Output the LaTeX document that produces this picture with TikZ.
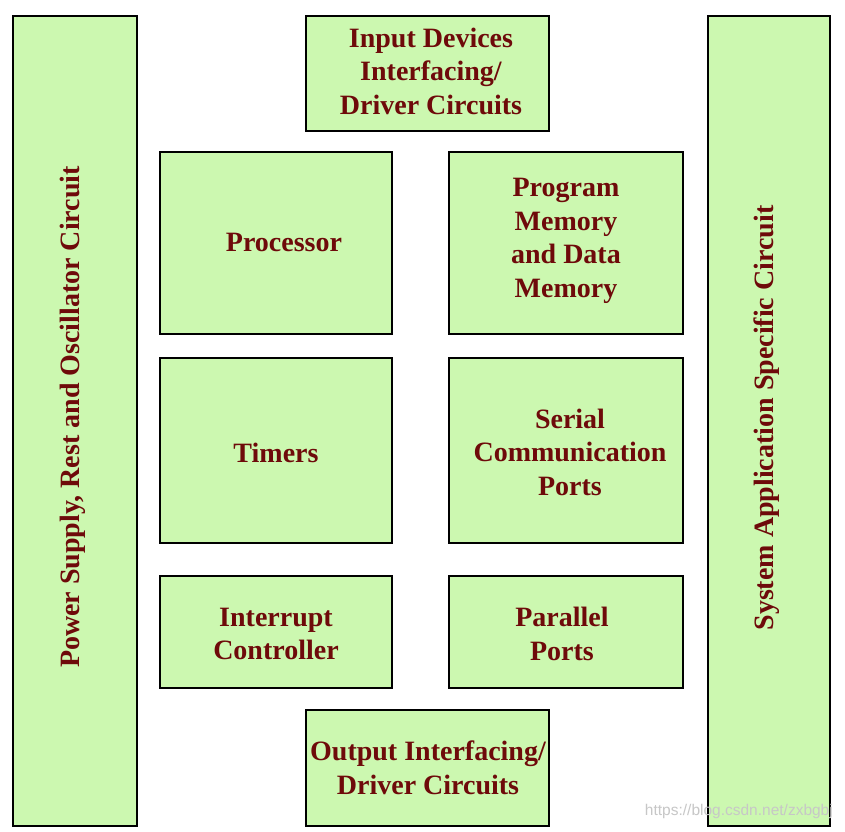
\documentclass[tikz,border=0pt]{standalone}
\usepackage{fontspec}
\setmainfont{Liberation Serif}
\newfontfamily\wmfont{Liberation Sans}
\definecolor{boxfill}{HTML}{CCF8B0}
\definecolor{txtred}{HTML}{6E0A0A}
\begin{document}
\begin{tikzpicture}[x=1pt,y=-1pt,
  blk/.style={draw=black,line width=2pt,fill=boxfill},
  lbl/.style={text=txtred,font=\fontsize{28}{33.5}\selectfont\bfseries,align=center}]
\useasboundingbox (0,0) rectangle (845,831);
\fill[white] (0,0) rectangle (845,831);
% side columns
\draw[blk] (13,16) rectangle (137,826);
\node[lbl,rotate=90] (pwr) at (73,417) {Power Supply, Rest and Oscillator Circuit};
\draw[blk] (708,16) rectangle (830,826);
\node[lbl,rotate=90] (sys) at (767,418) {System Application Specific Circuit};
% top / bottom
\draw[blk] (306,16) rectangle (549,131);
\node[lbl] (inp) at (431,71) {Input Devices\\Interfacing/\\Driver Circuits};
\draw[blk] (306,710) rectangle (549,826);
\node[lbl] (out) at (428,768) {Output Interfacing/\\Driver Circuits};
% grid
\draw[blk] (160,152) rectangle (392,334);
\node[lbl] (proc) at (284,242) {Processor};
\draw[blk] (449,152) rectangle (683,334);
\node[lbl] (mem) at (566,241) {Program\\Memory\\and Data\\Memory};
\draw[blk] (160,358) rectangle (392,543);
\node[lbl] (tim) at (276,453) {Timers};
\draw[blk] (449,358) rectangle (683,543);
\node[lbl] (ser) at (570,452) {Serial\\Communication\\Ports};
\draw[blk] (160,576) rectangle (392,688);
\node[lbl] (intr) at (276,634) {Interrupt\\Controller};
\draw[blk] (449,576) rectangle (683,688);
\node[lbl] (par) at (562,634) {Parallel\\Ports};
% watermark
\node[text=black!22,font=\wmfont\fontsize{15.5}{18}\selectfont,anchor=east,inner sep=0pt] (wm) at (833,811) {https://blog.csdn.net/zxbgbj};
\end{tikzpicture}
\end{document}
